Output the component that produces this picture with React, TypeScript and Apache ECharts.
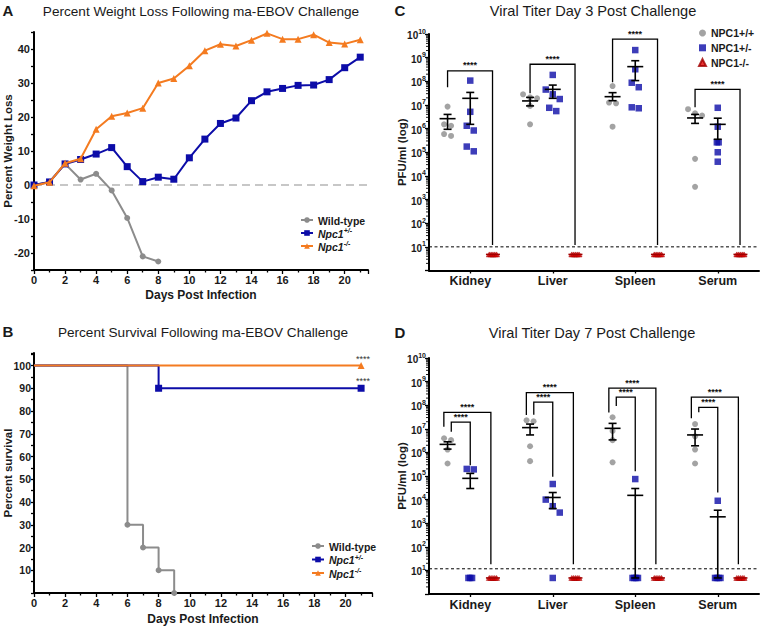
import React, { useEffect, useRef } from "react";
import * as echarts from "echarts";

const FONT = "'Liberation Sans', Arial, Helvetica, sans-serif";
const GREY = "#8c8c8c";
const BLUE = "#0c0ca8";
const ORANGE = "#f47b20";
const RED = "#e00000";
const DARKRED = "#a00000";
const INK = "#1a1a1a";

// ---------- Panel A: percent weight loss ----------
const dayList = [0, 1, 2, 3, 4, 5, 6, 7, 8, 9, 10, 11, 12, 13, 14, 15, 16, 17, 18, 19, 20, 21];
const wtWeight = [0, 0.9, 6.2, 1.6, 3.3, -1.6, -9.7, -21.0, -22.5];
const hetWeight = [0, 0.9, 6.2, 7.5, 9.1, 11.0, 5.4, 1.0, 2.3, 1.7, 8.0, 13.5, 18.1, 19.7, 24.8, 27.4, 28.4, 29.3, 29.4, 31.0, 34.5, 37.6];
const koWeight = [-0.2, 0.8, 6.4, 7.7, 16.4, 20.2, 21.2, 22.6, 30.0, 31.3, 35.1, 39.5, 41.4, 40.9, 42.6, 44.6, 42.9, 42.9, 44.2, 41.9, 41.5, 42.7];

// ---------- Panel B: survival ----------
const wtSurvDays = [0, 6, 7, 8, 9];
const wtSurv = [100, 30, 20, 10, 0];
const hetSurvDays = [0, 8, 21];
const hetSurv = [100, 90, 90];
const koSurvDays = [0, 21];
const koSurv = [100, 100];

// ---------- Panels C / D: viral titer (log10 PFU/ml) ----------
const organs = ["Kidney", "Liver", "Spleen", "Serum"];
const genoNames = ["NPC1+/+", "NPC1+/-", "NPC1-/-"];
const lodLog = 0.68;

const d3WT = [[6.93, 6.18, 6.12, 5.77, 5.69], [7.45, 7.32, 7.28, 6.96, 6.18], [7.80, 7.10, 7.07, 6.08], [6.82, 6.65, 6.55, 4.72, 3.54]];
const d3Het = [[8.03, 6.71, 6.12, 5.92, 5.24, 5.04], [8.27, 7.65, 7.45, 7.25, 6.88, 6.74], [9.32, 8.51, 7.94, 7.75, 6.90, 6.86], [6.88, 6.08, 5.42, 5.42, 5.0, 4.6]];
const d3KO = [[0.68, 0.68, 0.68, 0.68, 0.68], [0.68, 0.68, 0.68, 0.68, 0.68], [0.68, 0.68, 0.68, 0.68, 0.68], [0.68, 0.68, 0.68, 0.68, 0.68]];
const d3WTMean = [6.42, 7.17, 7.35, 6.45];
const d3WTHi = [6.60, 7.32, 7.52, 6.60];
const d3WTLo = [5.97, 6.96, 7.18, 6.22];
const d3HetMean = [7.28, 7.66, 8.62, 6.18];
const d3HetHi = [7.53, 7.84, 8.87, 6.44];
const d3HetLo = [6.18, 7.28, 8.03, 5.55];
const d3BracketTop = [8.44, 8.72, 9.78, 7.66];
const d3BracketLeftFoot = [7.75, 7.49, 7.96, 6.90];
const d3BracketRightFoot = [1.08, 1.08, 1.08, 1.08];
const d3DetectionLimit = 10;

const d7WT = [[6.60, 6.52, 6.12, 5.53], [7.36, 7.32, 6.26, 5.63], [7.49, 6.91, 6.52, 5.58], [7.20, 6.68, 6.12, 5.53]];
const d7Het = [[5.30, 5.28, 0.68, 0.68, 0.68], [4.66, 4.00, 3.72, 3.45, 0.68], [4.87, 0.68, 0.68, 0.68, 0.68], [3.95, 0.68, 0.68, 0.68, 0.68]];
const d7KO = [[0.68, 0.68, 0.68, 0.68, 0.68], [0.68, 0.68, 0.68, 0.68, 0.68], [0.68, 0.68, 0.68, 0.68, 0.68], [0.68, 0.68, 0.68, 0.68, 0.68]];
const d7WTMean = [6.34, 7.05, 7.02, 6.74];
const d7WTHi = [6.45, 7.20, 7.23, 6.99];
const d7WTLo = [6.14, 6.74, 6.53, 6.28];
const d7HetMean = [4.90, 4.09, 4.18, 3.27];
const d7HetHi = [5.11, 4.30, 4.47, 3.55];
const d7HetLo = [4.47, 3.62, 0.68, 0.68];
const d7OuterTop = [7.70, 8.53, 8.72, 8.34];
const d7OuterLeftFoot = [7.09, 7.59, 7.69, 7.45];
const d7OuterRightFoot = [1.26, 1.26, 1.26, 1.26];
const d7InnerTop = [7.28, 8.13, 8.34, 7.91];
const d7InnerLeftFoot = [6.88, 7.60, 7.97, 7.70];
const d7InnerRightFoot = [5.46, 4.97, 5.20, 4.30];
const d7DetectionLimit = 11.7;

// log axis range (the top is a hair under 1e10 so that ECharts ticks every decade)
const logAxisMin = 1;
const logAxisMax = 9.999e9;

const pow10 = (v: number) => Math.pow(10, v);

// minor tick positions of a log axis: 2..9 x 10^e
const logMinorTicks: number[][] = [];
for (let e = 0; e < 10; e++) for (let k = 2; k <= 9; k++) logMinorTicks.push([k * Math.pow(10, e)]);

// dot-plot placement: values close to each other are set side by side
function placePoints(groups: number[][], offset: number) {
  const out: number[][] = [];
  groups.forEach((vals, gi) => {
    const sorted = [...vals].sort((a, b) => b - a);
    let i = 0;
    while (i < sorted.length) {
      let j = i + 1;
      while (j < sorted.length && sorted[j - 1] - sorted[j] < 0.28) j++;
      const cl = sorted.slice(i, j);
      const same = cl.every((v) => v === cl[0]);
      const step = same ? 0.022 : 0.085;
      cl.forEach((v, k) => out.push([gi + offset + (k - (cl.length - 1) / 2) * step, pow10(v)]));
      i = j;
    }
  });
  return out;
}

function meanRows(mean: number[], lo: number[], hi: number[], offset: number) {
  return mean.map((m, i) => [i + offset, pow10(m), pow10(lo[i]), pow10(hi[i])]);
}

function bracketRows(top: number[], lf: number[], rf: number[], xl: number, xr: number) {
  return top.map((t, i) => [i + xl, i + xr, pow10(t), pow10(lf[i]), pow10(rf[i])]);
}

const renderMeanErr = (color: string, halfW: number, capW: number) => (params: any, api: any) => {
  const x = api.value(0);
  const pm = api.coord([x, api.value(1)]);
  const plo = api.coord([x, api.value(2)]);
  const phi = api.coord([x, api.value(3)]);
  const st = { stroke: color, lineWidth: 1.6, fill: null };
  const children: any[] = [
    { type: "line", shape: { x1: pm[0] - halfW, y1: pm[1], x2: pm[0] + halfW, y2: pm[1] }, style: st },
  ];
  if (Math.abs(plo[1] - phi[1]) > 0.5) {
    children.push({ type: "line", shape: { x1: pm[0], y1: phi[1], x2: pm[0], y2: plo[1] }, style: st });
    children.push({ type: "line", shape: { x1: pm[0] - capW, y1: phi[1], x2: pm[0] + capW, y2: phi[1] }, style: st });
    children.push({ type: "line", shape: { x1: pm[0] - capW, y1: plo[1], x2: pm[0] + capW, y2: plo[1] }, style: st });
  }
  return { type: "group", children };
};

const renderBracket = (params: any, api: any) => {
  const xl = api.value(0);
  const xr = api.value(1);
  const a = api.coord([xl, api.value(3)]);
  const b = api.coord([xl, api.value(2)]);
  const c = api.coord([xr, api.value(2)]);
  const d = api.coord([xr, api.value(4)]);
  return {
    type: "group",
    children: [
      { type: "polyline", shape: { points: [a, b, c, d] }, style: { stroke: "#000", lineWidth: 1.3, fill: null } },
      {
        type: "text",
        style: {
          text: "****",
          x: (b[0] + c[0]) / 2,
          y: b[1] - 1,
          textAlign: "center",
          textVerticalAlign: "bottom",
          align: "center",
          verticalAlign: "bottom",
          font: `bold 9px ${FONT}`,
          fill: "#111",
        },
      },
    ],
  };
};

const renderMinorTick = (params: any, api: any) => {
  const p = api.coord([-0.5, api.value(0)]);
  return { type: "line", shape: { x1: p[0] - 3, y1: p[1], x2: p[0], y2: p[1] }, style: { stroke: "#000", lineWidth: 0.9 } };
};

const logLabel = (v: number) => {
  const e = Math.round(Math.log10(v));
  return e === 0 ? "" : `{b|10}{s|${e}}`;
};
const logRich = {
  b: { fontSize: 10, fontWeight: "bold", fontFamily: FONT, color: INK, lineHeight: 13, verticalAlign: "bottom" },
  s: { fontSize: 7, fontWeight: "bold", fontFamily: FONT, color: INK, lineHeight: 8, verticalAlign: "top" },
};

const legendRich = {
  n: { fontSize: 10.5, fontWeight: "bold", fontFamily: FONT, color: INK, lineHeight: 12, verticalAlign: "bottom" },
  i: { fontSize: 10.5, fontWeight: "bold", fontStyle: "italic", fontFamily: FONT, color: INK, lineHeight: 12, verticalAlign: "bottom" },
  s: { fontSize: 7, fontWeight: "bold", fontStyle: "italic", fontFamily: FONT, color: INK, lineHeight: 7, verticalAlign: "top" },
};
const legendFmt = (name: string) => {
  if (name.startsWith("Npc1")) return `{i|Npc1}{s|${name.slice(4)}}`;
  return `{n|${name}}`;
};

const axisLine = { show: true, onZero: false, lineStyle: { color: "#000", width: 2 } };
const tickStyle = { color: "#000", width: 1.3 };
const tickLabel = (size: number) => ({ fontSize: size, fontWeight: "bold" as const, color: INK, fontFamily: FONT });
const nameStyle = { fontSize: 11.5, fontWeight: "bold" as const, color: INK, fontFamily: FONT, lineHeight: 12 };

function logYAxis(gridIndex: number) {
  return {
    gridIndex,
    type: "log",
    logBase: 10,
    min: logAxisMin,
    max: logAxisMax,
    splitNumber: 10,
    axisLine,
    axisTick: { show: true, length: 4, lineStyle: tickStyle },
    axisLabel: { formatter: logLabel, rich: logRich, margin: 3 },
    splitLine: { show: false },
    name: "PFU/ml (log)",
    nameLocation: "middle",
    nameGap: 21,
    nameMoveOverlap: false,
    nameTextStyle: nameStyle,
  };
}

function catXAxis(gridIndex: number) {
  return {
    gridIndex,
    type: "category",
    data: organs,
    boundaryGap: true,
    axisLine,
    axisTick: { show: true, alignWithLabel: true, length: 3, lineStyle: tickStyle },
    axisLabel: { ...tickLabel(12.5), margin: 4 },
    splitLine: { show: false },
  };
}

function hiddenX(gridIndex: number) {
  return { gridIndex, type: "value", min: -0.5, max: 3.5, show: false, splitLine: { show: false }, axisLine: { onZero: false } };
}

function titerSeries(xi: number, yi: number, wt: number[][], het: number[][], ko: number[][],
  wtM: number[][], hetM: number[][], koM: number[][], brackets: number[][][], lod: number) {
  const base = { xAxisIndex: xi, yAxisIndex: yi };
  const list: any[] = [
    { ...base, type: "line", data: [[-0.5, lod], [3.5, lod]], symbol: "none", silent: true,
      lineStyle: { color: "#000", width: 1, type: [3, 2.5] }, z: 1 },
    { ...base, type: "custom", coordinateSystem: "cartesian2d", renderItem: renderMinorTick,
      encode: { y: 0 }, data: logMinorTicks, silent: true, clip: false, z: 1 },
  ];
  brackets.forEach((rows) =>
    list.push({ ...base, type: "custom", coordinateSystem: "cartesian2d", renderItem: renderBracket,
      encode: { x: [0, 1], y: [2, 3, 4] }, data: rows, silent: true, z: 2 })
  );
  list.push(
    { ...base, name: genoNames[0], type: "scatter", data: placePoints(wt, -0.275), symbol: "circle", symbolSize: 6,
      itemStyle: { color: GREY }, z: 3 },
    { ...base, name: genoNames[1], type: "scatter", data: placePoints(het, 0), symbol: "rect", symbolSize: 6.5,
      itemStyle: { color: BLUE }, z: 3 },
    { ...base, name: genoNames[2], type: "scatter", data: placePoints(ko, 0.275), symbol: "triangle", symbolSize: [6, 5],
      itemStyle: { color: RED, borderColor: DARKRED, borderWidth: 0.6 }, z: 3 },
    { ...base, type: "custom", coordinateSystem: "cartesian2d", renderItem: renderMeanErr("#000", 8, 4),
      encode: { x: 0, y: [1, 2, 3] }, data: wtM, silent: true, z: 4 },
    { ...base, type: "custom", coordinateSystem: "cartesian2d", renderItem: renderMeanErr("#000", 8, 4),
      encode: { x: 0, y: [1, 2, 3] }, data: hetM, silent: true, z: 4 },
    { ...base, type: "custom", coordinateSystem: "cartesian2d", renderItem: renderMeanErr(DARKRED, 7, 4),
      encode: { x: 0, y: [1, 2, 3] }, data: koM, silent: true, z: 4 },
  );
  return list;
}

function lineSeries(name: string, xi: number, yi: number, data: any[], color: string, symbol: string, size: number, extra: any = {}) {
  return {
    name, type: "line", xAxisIndex: xi, yAxisIndex: yi, data, symbol, symbolSize: size,
    lineStyle: { color, width: 2 }, itemStyle: { color }, ...extra,
  };
}

function buildOption(): any {
  const koMean = organs.map(() => lodLog);
  const stars = (v: number[]) => ({ value: v, label: { show: true, formatter: "****", position: "top", distance: 3, offset: [2, 4], fontSize: 9, color: "#333", fontFamily: FONT } });
  const noSym = (v: number[]) => ({ value: v, symbol: "none" });

  const text = (t: string, x: number, y: number, font: string) => ({
    type: "text",
    style: { text: t, x, y, textAlign: "center", textVerticalAlign: "middle", align: "center", verticalAlign: "middle", font, fill: INK },
  });

  return {
    animation: false,
    backgroundColor: "#fff",
    textStyle: { fontFamily: FONT },
    grid: [
      { left: 34, top: 32, width: 334, height: 238, outerBoundsMode: "none" },
      { left: 34, top: 353, width: 338, height: 240, outerBoundsMode: "none" },
      { left: 429, top: 34, width: 330, height: 236.5, outerBoundsMode: "none" },
      { left: 429, top: 358, width: 330, height: 236, outerBoundsMode: "none" },
    ],
    graphic: [
      text("A", 8, 10, `bold 15px ${FONT}`),
      text("B", 8, 331, `bold 15px ${FONT}`),
      text("C", 400, 10, `bold 15px ${FONT}`),
      text("D", 400, 332, `bold 15px ${FONT}`),
      text("Percent Weight Loss Following ma-EBOV Challenge", 201, 11, `13.6px ${FONT}`),
      text("Percent Survival Following ma-EBOV Challenge", 203, 332, `13.6px ${FONT}`),
      text("Viral Titer Day 3 Post Challenge", 593, 11, `14.6px ${FONT}`),
      text("Viral Titer Day 7 Post Challenge", 592, 333, `14.6px ${FONT}`),
    ],
    legend: [
      {
        data: ["Wild-type", "Npc1+/-", "Npc1-/-"], orient: "vertical", left: 300, top: 214, padding: 0,
        itemWidth: 12, itemHeight: 7, itemGap: 1, formatter: legendFmt,
        textStyle: { rich: legendRich, fontSize: 10.5, fontWeight: "bold", color: INK, lineHeight: 12 },
        selectedMode: false,
      },
      {
        data: ["Wild-type", "Npc1+/-", "Npc1-/-"], orient: "vertical", left: 311, top: 540, padding: 0,
        itemWidth: 12, itemHeight: 7, itemGap: 1.5, formatter: legendFmt,
        textStyle: { rich: legendRich, fontSize: 10.5, fontWeight: "bold", color: INK, lineHeight: 12 },
        selectedMode: false,
      },
      {
        data: genoNames, orient: "vertical", left: 698, top: 27, padding: 0,
        itemWidth: 7, itemHeight: 7, itemGap: 2.8,
        textStyle: { fontSize: 10.5, fontWeight: "bold", color: INK, fontFamily: FONT, lineHeight: 12 },
        selectedMode: false,
      },
    ],
    xAxis: [
      {
        gridIndex: 0, type: "value", min: 0, max: 21.5, interval: 2, axisLine,
        axisTick: { show: true, length: 4, lineStyle: tickStyle },
        minorTick: { show: true, splitNumber: 2, length: 2.5, lineStyle: tickStyle },
        axisLabel: { ...tickLabel(11), margin: 4, showMaxLabel: false, formatter: (v: number) => (Number.isInteger(v) ? String(v) : "") },
        splitLine: { show: false }, minorSplitLine: { show: false },
        name: "Days Post Infection", nameLocation: "middle", nameGap: 19, nameMoveOverlap: false, nameTextStyle: { ...nameStyle, fontSize: 12 },
      },
      {
        gridIndex: 1, type: "value", min: 0, max: 21.7, interval: 2, axisLine,
        axisTick: { show: true, length: 4, lineStyle: tickStyle },
        minorTick: { show: true, splitNumber: 2, length: 2.5, lineStyle: tickStyle },
        axisLabel: { ...tickLabel(11), margin: 4, showMaxLabel: false, formatter: (v: number) => (Number.isInteger(v) ? String(v) : "") },
        splitLine: { show: false }, minorSplitLine: { show: false },
        name: "Days Post Infection", nameLocation: "middle", nameGap: 20, nameMoveOverlap: false, nameTextStyle: { ...nameStyle, fontSize: 12 },
      },
      catXAxis(2),
      hiddenX(2),
      catXAxis(3),
      hiddenX(3),
    ],
    yAxis: [
      {
        gridIndex: 0, type: "value", min: -25, max: 45, interval: 5, axisLine,
        axisTick: { show: true, length: 3, lineStyle: tickStyle },
        axisLabel: { ...tickLabel(11), margin: 4, formatter: (v: number) => (v % 10 === 0 ? String(v) : "") },
        splitLine: { show: false },
        name: "Percent Weight Loss", nameLocation: "middle", nameGap: 20, nameMoveOverlap: false, nameTextStyle: nameStyle,
      },
      {
        gridIndex: 1, type: "value", min: 0, max: 105.5, interval: 5, axisLine,
        axisTick: { show: true, length: 3, lineStyle: tickStyle },
        axisLabel: { ...tickLabel(10.5), margin: 3, formatter: (v: number) => (v % 10 === 0 && v > 0 ? String(v) : "") },
        splitLine: { show: false },
        name: "Percent survival", nameLocation: "middle", nameGap: 20, nameMoveOverlap: false, nameTextStyle: nameStyle,
      },
      logYAxis(2),
      logYAxis(3),
    ],
    series: [
      // Panel A
      {
        type: "line", xAxisIndex: 0, yAxisIndex: 0, data: [[0, 0], [21.5, 0]], symbol: "none", silent: true,
        lineStyle: { color: "#b5b5b5", width: 1.5, type: [8, 5] }, z: 1,
      },
      lineSeries("Wild-type", 0, 0, wtWeight.map((v, i) => [dayList[i], v]), GREY, "circle", 6, { z: 3 }),
      lineSeries("Npc1+/-", 0, 0, hetWeight.map((v, i) => [dayList[i], v]), BLUE, "rect", 7, { z: 4 }),
      lineSeries("Npc1-/-", 0, 0, koWeight.map((v, i) => [dayList[i], v]), ORANGE, "triangle", 7, { z: 5 }),
      // Panel B
      lineSeries("Wild-type", 1, 1, wtSurv.map((v, i) => (i === 0 ? noSym([wtSurvDays[i], v]) : [wtSurvDays[i], v])), GREY, "circle", 6, { step: "end", z: 3 }),
      lineSeries("Npc1+/-", 1, 1, hetSurv.map((v, i) => (i === 0 ? noSym([hetSurvDays[i], v]) : i === hetSurv.length - 1 ? stars([hetSurvDays[i], v]) : [hetSurvDays[i], v])), BLUE, "rect", 7, { step: "end", z: 4 }),
      lineSeries("Npc1-/-", 1, 1, koSurv.map((v, i) => (i === 0 ? noSym([koSurvDays[i], v]) : stars([koSurvDays[i], v]))), ORANGE, "triangle", 7, { step: "end", z: 5 }),
      // Panel C
      ...titerSeries(3, 2, d3WT, d3Het, d3KO,
        meanRows(d3WTMean, d3WTLo, d3WTHi, -0.275),
        meanRows(d3HetMean, d3HetLo, d3HetHi, 0),
        meanRows(koMean, koMean, koMean, 0.275),
        [bracketRows(d3BracketTop, d3BracketLeftFoot, d3BracketRightFoot, -0.275, 0.27)],
        d3DetectionLimit),
      // Panel D
      ...titerSeries(5, 3, d7WT, d7Het, d7KO,
        meanRows(d7WTMean, d7WTLo, d7WTHi, -0.275),
        meanRows(d7HetMean, d7HetLo, d7HetHi, 0),
        meanRows(koMean, koMean, koMean, 0.275),
        [
          bracketRows(d7OuterTop, d7OuterLeftFoot, d7OuterRightFoot, -0.32, 0.25),
          bracketRows(d7InnerTop, d7InnerLeftFoot, d7InnerRightFoot, -0.23, 0),
        ],
        d7DetectionLimit),
    ],
  };
}

export default function App() {
  const ref = useRef<HTMLDivElement>(null);
  useEffect(() => {
    document.body.style.margin = "0";
    if (!ref.current) return;
    const chart = echarts.init(ref.current, null, { renderer: "svg" });
    chart.setOption(buildOption());
    return () => chart.dispose();
  }, []);
  return <div ref={ref} style={{ width: 760, height: 628, background: "#fff" }} />;
}
